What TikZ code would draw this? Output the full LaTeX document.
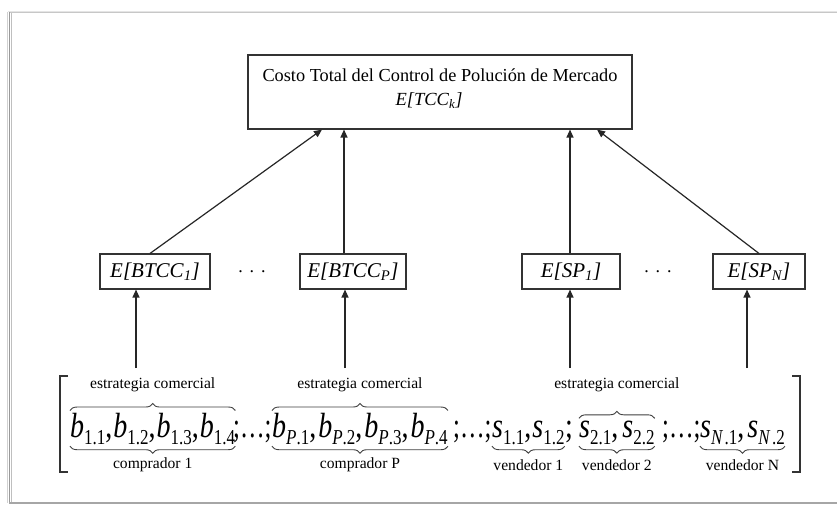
\documentclass[tikz,border=0pt]{standalone}
\usepackage{fontspec}
\usepackage{graphicx}
\setmainfont{Liberation Serif}
\usetikzlibrary{arrows.meta,decorations.pathreplacing,calc}

% font sizes (1pt = one unit of the drawing)
\newcommand\titlefont{\fontsize{18.3}{21}\selectfont}
\newcommand\boxfont{\fontsize{21}{24}\selectfont\itshape}
\newcommand\labfont{\fontsize{15.6}{17}\selectfont}
\newcommand\mrowfont{\fontsize{28}{30}\selectfont}
% italic variable with a lowered, smaller index
\newcommand\vsub[2]{\textit{#1}\raisebox{-0.22em}{\fontsize{17}{17}\selectfont #2}}
\newcommand\stretchrow[1]{\scalebox{1}[1.25]{#1}}
% separator ";...;" between agents
\newcommand\agentsep{\scalebox{0.88}[1.25]{;…;}}
% comma followed by a small gap
\newcommand\cm[1]{,\hspace{#1pt}}

\tikzset{
  box/.style={draw=black!80, line width=1.1pt, minimum height=35, inner sep=0, font=\boxfont},
  arr/.style={draw=black!85, line width=1.2pt, -{Triangle[length=8pt,width=7pt]}},
  mrow/.style={inner sep=0, anchor=base west, font=\mrowfont},
  brc/.style={draw=black!75, line width=0.9pt, decorate, decoration={brace, amplitude=7pt}},
  lab/.style={font=\labfont, inner sep=0},
  frameline/.style={line width=1pt},
}

\begin{document}
\begin{tikzpicture}[x=1pt,y=-1pt]
\useasboundingbox (0,0) rectangle (837,507);
\fill[white] (0,0) rectangle (837,507);

% page frame with a soft shadow on the left
\draw[frameline, black!10] (8,11) -- (837,11);
\draw[frameline, black!22] (9,12.5) -- (837,12.5);
\draw[frameline, black!18] (7,12) -- (7,503);
\draw[frameline, black!40] (9,12) -- (9,503);
\draw[frameline, black!25] (11,13) -- (11,503);
\draw[line width=1.5pt, black!35] (9,503) -- (837,503);

% total cost box
\node[draw=black!80, line width=1.1pt, minimum width=384, minimum height=74, inner sep=0] (top) at (440,92) {};
\node[inner sep=0, font=\titlefont] (toptitle) at (440,75) {Costo Total del Control de Polución de Mercado};
\node[inner sep=0, font=\fontsize{18.5}{21}\selectfont\itshape] (topexpr) at (429,101) {E[TCC\textsubscript{k}]};

% expected costs / profits of each agent
\node[box, minimum width=110] (m1) at (155,271.5) {E[BTCC\textsubscript{1}]};
\node[box, minimum width=106] (m2) at (353,271.5) {E[BTCC\textsubscript{P}]};
\node[box, minimum width=98]  (m3) at (571,271.5) {E[SP\textsubscript{1}]};
\node[box, minimum width=92]  (m4) at (759,271.5) {E[SP\textsubscript{N}]};
\node[inner sep=0, font=\fontsize{18}{20}\selectfont] (d1) at (252,272) {.\hspace{7pt}.\hspace{7pt}.};
\node[inner sep=0, font=\fontsize{18}{20}\selectfont] (d2) at (658,272) {.\hspace{7pt}.\hspace{7pt}.};

% aggregation arrows
\draw[arr] ([xshift=-5pt]m1.north) -- ([xshift=-118pt]top.south);
\draw[arr] ([xshift=-9pt]m2.north) -- ([xshift=-96pt]top.south);
\draw[arr] ([xshift=-1pt]m3.north) -- ([xshift=130pt]top.south);
\draw[arr] (m4.north) -- ([xshift=157pt]top.south);

% strategy vector
\node[mrow] (g1) at (70,437) {\stretchrow{\vsub{b}{1.1}\cm{1}\vsub{b}{1.2}\cm{1}\vsub{b}{1.3}\cm{1}\vsub{b}{1.4}}};
\node[mrow] (s1) at (233,437) {\agentsep};
\node[mrow] (g2) at (272,437) {\stretchrow{\vsub{b}{\textit{P}.1}\cm{2}\vsub{b}{\textit{P}.2}\cm{2}\vsub{b}{\textit{P}.3}\cm{2}\vsub{b}{\textit{P}.4}}};
\node[mrow] (s2) at (453,437) {\agentsep};
\node[mrow] (g3) at (492,437) {\stretchrow{\vsub{s}{1.1}\cm{1}\vsub{s}{1.2}}};
\node[mrow] (s3) at (565,437) {\stretchrow{;}};
\node[mrow] (g4) at (579,437) {\stretchrow{\vsub{s}{2.1}\cm{4}\vsub{s}{2.2}}};
\node[mrow] (s4) at (662,437) {\agentsep};
\node[mrow] (g5) at (700,437) {\stretchrow{\vsub{s}{\textit{N}\kern1.5pt.1}\cm{3}\vsub{s}{\textit{N}\kern1.5pt.2}}};

% square brackets around the vector
\draw[black!80, line width=1.1pt] (68,376) -- (60,376) -- (60,472) -- (68,472);
\draw[black!80, line width=1.1pt] (792,376) -- (800,376) -- (800,472) -- (792,472);

% arrows from the strategies to the agents
\coordinate (a1) at (136,368);
\coordinate (a2) at (345,368);
\coordinate (a3) at (570,368);
\coordinate (a4) at (747,368);
\draw[arr] (a1) -- ([xshift=-19pt]m1.south);
\draw[arr] (a2) -- ([xshift=-8pt]m2.south);
\draw[arr] (a3) -- ([xshift=-1pt]m3.south);
\draw[arr] (a4) -- ([xshift=-12pt]m4.south);

% braces
\draw[brc] ([yshift=2pt]g1.north west) -- ([yshift=2pt]g1.north east);
\draw[brc] ([yshift=2pt]g2.north west) -- ([yshift=2pt]g2.north east);
\draw[brc] ([yshift=2pt]g4.north west) -- ([yshift=2pt]g4.north east);
\foreach \g in {g1,g2,g3,g4,g5}
  \draw[brc] ([yshift=-1pt]\g.south east) -- ([yshift=-1pt]\g.south west);

\coordinate (uprow) at (0,385);
\coordinate (lowrow) at (0,465);
\node[lab] (e1) at (g1.north |- uprow) {estrategia comercial};
\node[lab] (e2) at (g2.north |- uprow) {estrategia comercial};
\node[lab] (e3) at (g4.north |- uprow) {estrategia comercial};
\node[lab] (c1) at (g1.south |- lowrow) {comprador 1};
\node[lab] (c2) at (g2.south |- lowrow) {comprador P};
\node[lab] (v1) at (g3.south |- lowrow) {vendedor 1};
\node[lab] (v2) at (g4.south |- lowrow) {vendedor 2};
\node[lab] (v3) at (g5.south |- lowrow) {vendedor N};
\end{tikzpicture}
\end{document}
